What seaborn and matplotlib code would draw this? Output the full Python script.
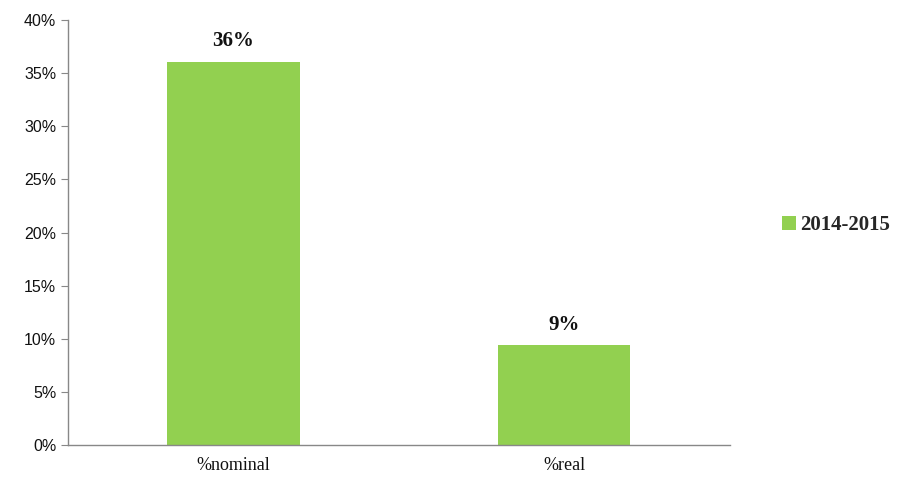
import pandas as pd
import numpy as np
import matplotlib.pyplot as plt
import seaborn as sns
from matplotlib.ticker import FixedLocator, PercentFormatter
from matplotlib.patches import Patch

categories = ["%nominal", "%real"]
values = [36.1, 9.4]
value_labels = ["36%", "9%"]
series_name = "2014-2015"

df = pd.DataFrame({"Category": categories, "Value": values})

sns.set_style("white")
plt.rcParams["font.family"] = ["Liberation Serif", "DejaVu Sans"]

bar_color = "#92d050"

fig = plt.figure(figsize=(9.19, 4.79), dpi=100)
ax = fig.add_axes([0.074, 0.071, 0.72, 0.887])

sns.barplot(data=df, x="Category", y="Value", color=bar_color, width=0.4,
            saturation=1, linewidth=0, ax=ax)

ax.set_ylim(0, 40)
ax.set_xlim(-0.5, 1.5)
ax.set_yticks(np.arange(0, 41, 5))
ax.yaxis.set_major_formatter(PercentFormatter(decimals=0))
for lbl in ax.get_yticklabels():
    lbl.set_fontfamily("Liberation Sans")
    lbl.set_fontsize(11.5)
    lbl.set_color("#111111")

ax.tick_params(axis="x", which="major", length=0, labelsize=13, pad=9,
               labelcolor="#111111")
ax.xaxis.set_minor_locator(FixedLocator([-0.5, 0.5, 1.5]))
ax.tick_params(axis="x", which="minor", length=5, color="#888888", direction="out")
ax.tick_params(axis="y", length=5, color="#888888", direction="out", left=True)
ax.set_xlabel("")
ax.set_ylabel("")

for side in ["top", "right"]:
    ax.spines[side].set_visible(False)
for side in ["left", "bottom"]:
    ax.spines[side].set_color("#888888")
    ax.spines[side].set_linewidth(1)

for i, (v, t) in enumerate(zip(values, value_labels)):
    ax.text(i, v + 1.0, t, ha="center", va="bottom", fontsize=15,
            fontweight="bold", color="#111111")

handle = Patch(facecolor=bar_color, edgecolor="none")
fig.legend([handle], [series_name], loc="center left", bbox_to_anchor=(0.83, 0.53),
           frameon=False, handlelength=0.7, handleheight=0.7, handletextpad=0.2,
           prop={"family": "Liberation Serif", "weight": "bold", "size": 15})

fig.savefig("out.png", dpi=100)
